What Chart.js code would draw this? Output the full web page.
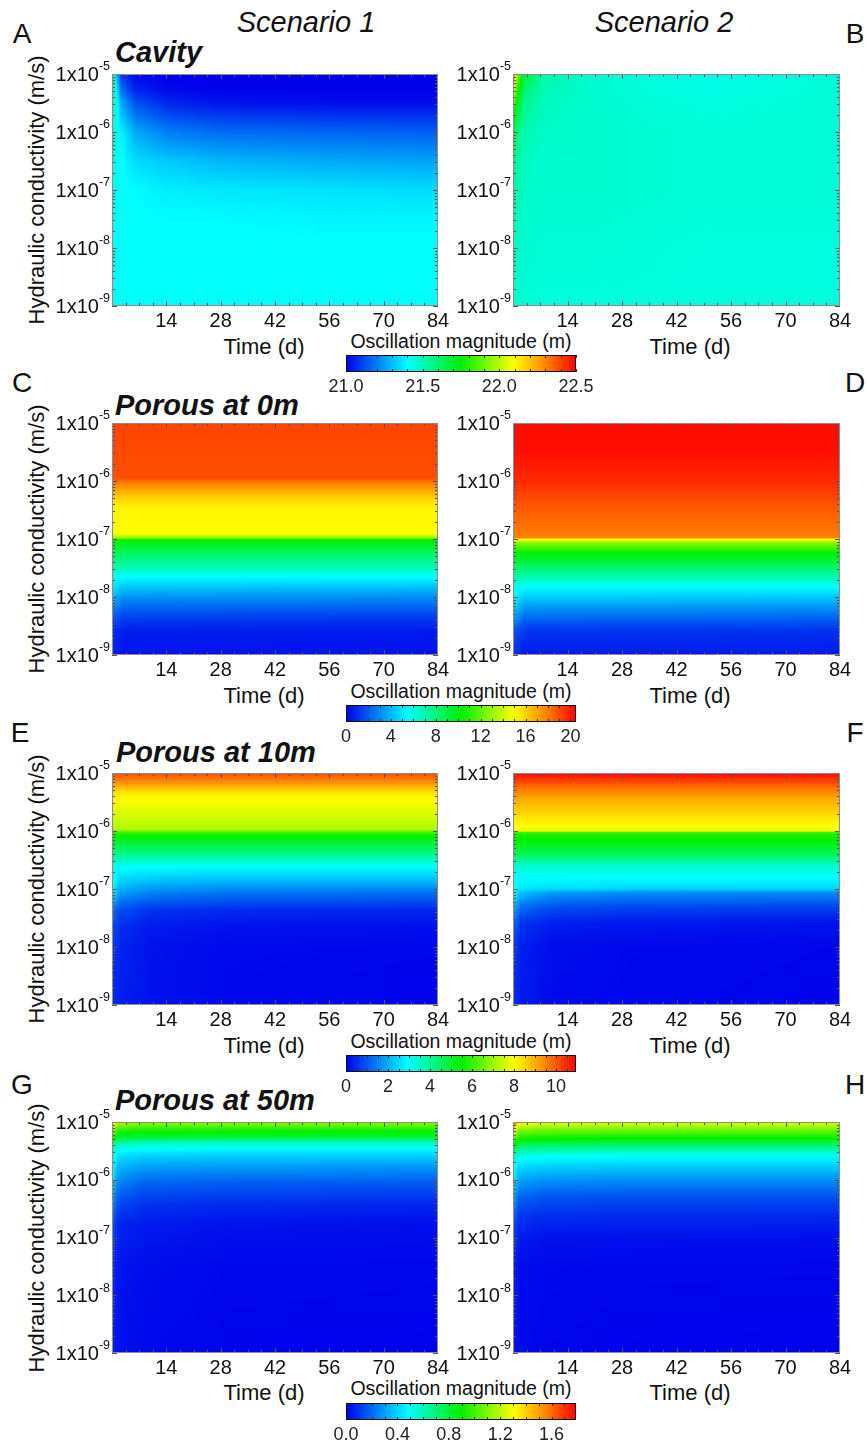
<!DOCTYPE html>
<html>
<head>
<meta charset="utf-8">
<title>Oscillation magnitude</title>
<script src="https://cdn.jsdelivr.net/npm/chart.js"></script>
<style>
  html, body { margin: 0; padding: 0; background: #fff; }
  #fig { position: relative; width: 867px; height: 1446px; overflow: hidden;
         font-family: "Liberation Sans", Arial, Helvetica, sans-serif; color: #111; }
  #fig canvas { position: absolute; }
  .t { position: absolute; white-space: nowrap; line-height: 1; transform: translate(-50%, -50%); }
  .scen { font-size: 29px; font-style: italic; }
  .letter { font-size: 28px; }
  .title { font-size: 29px; font-weight: bold; font-style: italic; transform: translate(0, -50%); }
  .ytitle { font-size: 22px; transform: translate(-50%, -50%) rotate(-90deg); }
  .xtitle { font-size: 22px; }
  .cbtitle { font-size: 19.5px; }
</style>
</head>
<body>
<div id="fig">
  <div class="t scen" style="left:306px; top:22px">Scenario 1</div>
  <div class="t scen" style="left:664px; top:22px">Scenario 2</div>

  <div class="t letter" style="left:22px; top:34px">A</div>
  <div class="t letter" style="left:855px; top:34px">B</div>
  <div class="t letter" style="left:22px; top:383px">C</div>
  <div class="t letter" style="left:855px; top:383px">D</div>
  <div class="t letter" style="left:20px; top:733px">E</div>
  <div class="t letter" style="left:855px; top:733px">F</div>
  <div class="t letter" style="left:22px; top:1085px">G</div>
  <div class="t letter" style="left:855px; top:1085px">H</div>

  <div class="t title" style="left:115px; top:52px">Cavity</div>
  <div class="t title" style="left:115px; top:405px">Porous at 0m</div>
  <div class="t title" style="left:116px; top:752px">Porous at 10m</div>
  <div class="t title" style="left:115px; top:1100px">Porous at 50m</div>

  <div class="t ytitle" style="left:37px; top:190px">Hydraulic conductivity (m/s)</div>
  <div class="t ytitle" style="left:37px; top:539px">Hydraulic conductivity (m/s)</div>
  <div class="t ytitle" style="left:37px; top:889px">Hydraulic conductivity (m/s)</div>
  <div class="t ytitle" style="left:37px; top:1238px">Hydraulic conductivity (m/s)</div>

  <div class="t xtitle" style="left:264px; top:347px">Time (d)</div>
  <div class="t xtitle" style="left:690px; top:347px">Time (d)</div>
  <div class="t xtitle" style="left:264px; top:696px">Time (d)</div>
  <div class="t xtitle" style="left:690px; top:696px">Time (d)</div>
  <div class="t xtitle" style="left:264px; top:1046px">Time (d)</div>
  <div class="t xtitle" style="left:690px; top:1046px">Time (d)</div>
  <div class="t xtitle" style="left:264px; top:1393px">Time (d)</div>
  <div class="t xtitle" style="left:690px; top:1393px">Time (d)</div>

  <div class="t cbtitle" style="left:461px; top:342px">Oscillation magnitude (m)</div>
  <div class="t cbtitle" style="left:461px; top:692px">Oscillation magnitude (m)</div>
  <div class="t cbtitle" style="left:461px; top:1042px">Oscillation magnitude (m)</div>
  <div class="t cbtitle" style="left:461px; top:1389px">Oscillation magnitude (m)</div>
</div>

<script>
// axes
const timeTicks = [14, 28, 42, 56, 70, 84];
const logKTicks = [-9, -8, -7, -6, -5];
const logKExp = ['-9', '-8', '-7', '-6', '-5'];

// A - cavity, scenario 1 (rows: log10 K, cols: time in days)
const kA = [-5, -5.25, -5.5, -6, -6.5, -7, -7.5, -8, -9];
const tA = [0, 1, 2.5, 6, 14, 28, 56, 84];
const zA = [
  [21.75, 21.30, 21.08, 21.01, 21.00, 21.00, 21.00, 21.00],
  [21.60, 21.40, 21.16, 21.05, 21.01, 21.00, 21.00, 21.00],
  [21.50, 21.44, 21.26, 21.13, 21.06, 21.03, 21.02, 21.02],
  [21.45, 21.44, 21.38, 21.27, 21.20, 21.17, 21.16, 21.15],
  [21.43, 21.43, 21.41, 21.35, 21.32, 21.29, 21.27, 21.26],
  [21.42, 21.42, 21.41, 21.40, 21.38, 21.37, 21.36, 21.35],
  [21.42, 21.42, 21.41, 21.41, 21.40, 21.40, 21.39, 21.39],
  [21.42, 21.42, 21.41, 21.41, 21.41, 21.41, 21.41, 21.41],
  [21.42, 21.42, 21.41, 21.41, 21.41, 21.41, 21.41, 21.41]
];

// B - cavity, scenario 2
const kB = [-5, -5.3, -5.6, -6, -6.5, -7, -8, -9];
const tB = [0, 1, 3, 8, 20, 50, 84];
const zB = [
  [22.50, 21.95, 21.68, 21.52, 21.47, 21.43, 21.46],
  [22.10, 21.80, 21.60, 21.50, 21.47, 21.44, 21.46],
  [21.85, 21.68, 21.55, 21.49, 21.47, 21.45, 21.46],
  [21.70, 21.58, 21.51, 21.48, 21.47, 21.46, 21.46],
  [21.60, 21.53, 21.49, 21.47, 21.47, 21.46, 21.46],
  [21.55, 21.51, 21.48, 21.47, 21.47, 21.46, 21.46],
  [21.50, 21.48, 21.47, 21.46, 21.46, 21.45, 21.45],
  [21.48, 21.47, 21.46, 21.45, 21.45, 21.45, 21.45]
];

// C - porous at 0 m, scenario 1
const kC = [-5, -5.5, -5.95, -6.05, -6.25, -6.45, -6.9, -6.97, -7.02, -7.25, -7.48, -7.65, -7.8, -8.05, -8.35, -8.6, -9];
const tC = [0, 3, 84];
const zC = [
  [19.1, 19.1, 19.1], [19.0, 19.0, 19.0], [18.9, 18.9, 18.9], [17.8, 17.8, 17.8],
  [16.3, 16.3, 16.3], [15.2, 15.2, 15.2], [15.0, 15.0, 15.0], [13.5, 13.5, 13.5],
  [10.3, 10.3, 10.3], [8.5, 8.4, 8.4], [7.2, 7.0, 7.0], [5.8, 5.5, 5.5],
  [5.2, 4.5, 4.4], [3.8, 2.9, 2.8], [2.0, 1.4, 1.3], [1.0, 0.6, 0.5], [0.8, 0.45, 0.4]
];

// D - porous at 0 m, scenario 2
const kD = [-5, -5.46, -5.98, -6.44, -6.98, -7.0, -7.07, -7.24, -7.53, -7.82, -7.99, -8.28, -8.57, -9];
const tD = [0, 3, 84];
const zD = [
  [20.3, 20.3, 20.3], [20.2, 20.2, 20.2], [19.7, 19.7, 19.7], [18.7, 18.7, 18.7],
  [17.9, 17.9, 17.9], [15.2, 15.2, 15.2], [12.7, 12.7, 12.7], [10.3, 10.3, 10.3],
  [8.0, 8.0, 8.0], [6.0, 5.6, 5.6], [5.4, 4.5, 4.4], [4.0, 2.7, 2.6],
  [2.0, 1.2, 1.1], [1.0, 0.55, 0.5]
];

// E - porous at 10 m, scenario 1
const kE = [-5, -5.17, -5.35, -5.58, -5.86, -5.97, -6.03, -6.09, -6.38, -6.61, -6.84, -7.07, -7.36, -7.65, -8, -8.5, -9];
const tE = [0, 2, 10, 30, 84];
const zE = [
  [10.1, 10.1, 10.1, 10.1, 10.1],
  [9.35, 9.35, 9.35, 9.35, 9.35],
  [8.25, 8.25, 8.25, 8.25, 8.25],
  [7.8, 7.8, 7.8, 7.8, 7.8],
  [7.4, 7.4, 7.4, 7.4, 7.4],
  [7.2, 7.2, 7.2, 7.2, 7.2],
  [6.0, 6.0, 6.0, 6.0, 6.0],
  [5.5, 5.5, 5.5, 5.5, 5.5],
  [4.3, 4.2, 4.2, 4.2, 4.2],
  [3.2, 3.05, 3.0, 3.0, 3.0],
  [3.1, 2.5, 2.3, 2.2, 2.2],
  [2.9, 1.8, 1.5, 1.35, 1.3],
  [1.4, 0.9, 0.6, 0.5, 0.45],
  [0.9, 0.55, 0.3, 0.2, 0.17],
  [0.7, 0.42, 0.22, 0.1, 0.06],
  [0.55, 0.38, 0.2, 0.08, 0.03],
  [0.5, 0.36, 0.2, 0.08, 0.03]
];

// F - porous at 10 m, scenario 2
const kF = [-5, -5.23, -5.46, -5.69, -5.92, -6.0, -6.03, -6.15, -6.38, -6.61, -6.78, -6.99, -7.07, -7.3, -7.59, -8, -9];
const tF = [0, 2, 10, 30, 84];
const zF = [
  [10.9, 10.9, 10.9, 10.9, 10.9],
  [9.8, 9.8, 9.8, 9.8, 9.8],
  [9.0, 9.0, 9.0, 9.0, 9.0],
  [8.5, 8.5, 8.5, 8.5, 8.5],
  [8.0, 8.0, 8.0, 8.0, 8.0],
  [7.9, 7.9, 7.9, 7.9, 7.9],
  [5.8, 5.8, 5.8, 5.8, 5.8],
  [5.5, 5.5, 5.5, 5.5, 5.5],
  [4.7, 4.7, 4.7, 4.7, 4.7],
  [3.4, 3.4, 3.4, 3.4, 3.4],
  [3.0, 3.0, 3.0, 3.0, 3.0],
  [3.1, 2.7, 2.6, 2.5, 2.5],
  [3.0, 2.2, 1.8, 1.65, 1.6],
  [2.2, 1.3, 0.95, 0.85, 0.8],
  [1.2, 0.6, 0.35, 0.27, 0.22],
  [0.7, 0.35, 0.15, 0.08, 0.05],
  [0.5, 0.3, 0.12, 0.06, 0.03]
];

// G - porous at 50 m, scenario 1
const kG = [-5, -5.03, -5.14, -5.26, -5.37, -5.46, -5.6, -5.83, -6.06, -6.41, -6.76, -7.5, -9];
const tG = [0, 1.5, 8, 30, 84];
const zG = [
  [1.50, 1.25, 1.18, 1.16, 1.16],
  [1.40, 1.15, 1.10, 1.09, 1.09],
  [1.20, 0.97, 0.94, 0.93, 0.93],
  [1.00, 0.83, 0.81, 0.80, 0.80],
  [0.75, 0.62, 0.58, 0.57, 0.57],
  [0.60, 0.52, 0.49, 0.48, 0.48],
  [0.55, 0.42, 0.39, 0.38, 0.38],
  [0.50, 0.33, 0.28, 0.27, 0.265],
  [0.45, 0.25, 0.19, 0.175, 0.17],
  [0.30, 0.14, 0.10, 0.085, 0.075],
  [0.18, 0.07, 0.05, 0.035, 0.027],
  [0.10, 0.04, 0.025, 0.012, 0.01],
  [0.06, 0.03, 0.015, 0.005, 0.003]
];

// H - porous at 50 m, scenario 2
const kH = [-5, -5.03, -5.13, -5.28, -5.42, -5.59, -5.73, -5.96, -6.3, -6.64, -7.0, -7.5, -9];
const tH = [0, 1.5, 8, 30, 84];
const zH = [
  [1.79, 1.40, 1.32, 1.30, 1.30],
  [1.60, 1.30, 1.24, 1.22, 1.22],
  [1.40, 1.12, 1.09, 1.08, 1.08],
  [1.10, 0.93, 0.91, 0.90, 0.90],
  [0.85, 0.73, 0.71, 0.70, 0.70],
  [0.60, 0.51, 0.49, 0.48, 0.48],
  [0.52, 0.44, 0.42, 0.41, 0.41],
  [0.48, 0.33, 0.30, 0.29, 0.29],
  [0.35, 0.19, 0.16, 0.15, 0.15],
  [0.20, 0.10, 0.085, 0.078, 0.075],
  [0.12, 0.05, 0.035, 0.03, 0.027],
  [0.07, 0.025, 0.015, 0.01, 0.009],
  [0.04, 0.015, 0.008, 0.004, 0.003]
];

// colour bars, one per row
const cbMin = [21.0, 0, 0, 0];
const cbMax = [22.5, 20.5, 10.95, 1.79];
const cbTicks = [[21.0, 21.5, 22.0, 22.5], [0, 4, 8, 12, 16, 20], [0, 2, 4, 6, 8, 10], [0, 0.4, 0.8, 1.2, 1.6]];
const cbLabels = [['21.0', '21.5', '22.0', '22.5'], ['0', '4', '8', '12', '16', '20'], ['0', '2', '4', '6', '8', '10'], ['0.0', '0.4', '0.8', '1.2', '1.6']];
const cbMinor = [0.1, 1, 0.5, 0.1];

// jet-like colour map
const cmapPos = [0, 0.27, 0.5, 0.73, 0.86, 1];
const cmapRgb = [[0, 0, 235], [0, 255, 255], [0, 240, 0], [255, 255, 0], [255, 140, 0], [255, 0, 0]];

// layout
const FONT = '"Liberation Sans", Arial, Helvetica, sans-serif';
const ROW_TOP = [74, 423, 773, 1122];
const COL_LEFT = [112, 513];
const PLOT_W = 326, PLOT_H = 232;
const CB_TOP = [355, 705, 1055, 1403];
const CB_LEFT = 346, CB_W = 230, CB_H = 17;

function colorAt(p) {
  p = Math.max(0, Math.min(1, p));
  for (let i = 0; i < cmapPos.length - 1; i++) {
    if (p <= cmapPos[i + 1]) {
      const f = (p - cmapPos[i]) / (cmapPos[i + 1] - cmapPos[i]);
      const a = cmapRgb[i], b = cmapRgb[i + 1];
      return [a[0] + (b[0] - a[0]) * f, a[1] + (b[1] - a[1]) * f, a[2] + (b[2] - a[2]) * f];
    }
  }
  return cmapRgb[cmapRgb.length - 1];
}

// index + fraction of v inside a monotonic array
function locate(arr, v) {
  const n = arr.length;
  const asc = arr[n - 1] > arr[0];
  for (let i = 0; i < n - 1; i++) {
    const a = arr[i], b = arr[i + 1];
    if ((asc && v <= b) || (!asc && v >= b)) {
      const f = (v - a) / (b - a);
      return [i, Math.min(1, Math.max(0, f))];
    }
  }
  return [n - 2, 1];
}

const heatPlugin = {
  id: 'heat',
  beforeDatasetsDraw(chart, args, opts) {
    const { ctx, chartArea: a, scales: { x, y } } = chart;
    const w = Math.round(a.right - a.left), h = Math.round(a.bottom - a.top);
    const img = ctx.createImageData(w, h);
    const cols = [];
    for (let i = 0; i < w; i++) cols.push(locate(opts.t, x.getValueForPixel(a.left + i + 0.5)));
    for (let j = 0; j < h; j++) {
      const [ri, rf] = locate(opts.k, y.getValueForPixel(a.top + j + 0.5));
      const r0 = opts.z[ri], r1 = opts.z[ri + 1];
      for (let i = 0; i < w; i++) {
        const [ci, cf] = cols[i];
        const top = r0[ci] + (r0[ci + 1] - r0[ci]) * cf;
        const bot = r1[ci] + (r1[ci + 1] - r1[ci]) * cf;
        const v = top + (bot - top) * rf;
        const c = colorAt((v - opts.min) / (opts.max - opts.min));
        const o = (j * w + i) * 4;
        img.data[o] = c[0]; img.data[o + 1] = c[1]; img.data[o + 2] = c[2]; img.data[o + 3] = 255;
      }
    }
    ctx.putImageData(img, Math.round(a.left), Math.round(a.top));
  }
};

const framePlugin = {
  id: 'frame',
  afterDraw(chart) {
    const { ctx, chartArea: a, scales: { x, y } } = chart;
    ctx.save();
    ctx.strokeStyle = '#555';
    ctx.lineWidth = 1;
    ctx.beginPath();
    for (let n = 1; n < 24; n++) {
      const px = Math.round(x.getPixelForValue(n * 3.5)) + 0.5;
      const len = n % 4 === 0 ? 5 : 3;
      ctx.moveTo(px, a.top); ctx.lineTo(px, a.top + len);
      ctx.moveTo(px, a.bottom); ctx.lineTo(px, a.bottom - len);
    }
    for (let e = -9; e < -5; e++) {
      for (let m = 1; m <= 9; m++) {
        const py = Math.round(y.getPixelForValue(e + Math.log10(m))) + 0.5;
        const len = m === 1 ? 5 : 3;
        ctx.moveTo(a.left, py); ctx.lineTo(a.left + len, py);
        ctx.moveTo(a.right, py); ctx.lineTo(a.right - len, py);
      }
    }
    ctx.stroke();
    ctx.strokeStyle = '#8c8c8c';
    ctx.strokeRect(Math.round(a.left) + 0.5, Math.round(a.top) + 0.5,
      Math.round(a.right - a.left) - 1, Math.round(a.bottom - a.top) - 1);

    ctx.fillStyle = '#111';
    ctx.textBaseline = 'middle';
    ctx.textAlign = 'center';
    ctx.font = '20px ' + FONT;
    timeTicks.forEach(v => ctx.fillText(String(v), x.getPixelForValue(v), a.bottom + 15));

    ctx.textAlign = 'right';
    logKTicks.forEach((v, i) => {
      const py = y.getPixelForValue(v);
      const right = a.left - 2;
      ctx.font = '12.5px ' + FONT;
      const ew = ctx.measureText(logKExp[i]).width;
      ctx.fillText(logKExp[i], right, py - 7);
      ctx.font = '20px ' + FONT;
      ctx.fillText('1x10', right - ew, py + 1);
    });
    ctx.restore();
  }
};

const colorbarPlugin = {
  id: 'colorbar',
  beforeDatasetsDraw(chart, args, opts) {
    const { ctx, chartArea: a, scales: { x } } = chart;
    const w = Math.round(a.right - a.left), h = Math.round(a.bottom - a.top);
    ctx.save();
    for (let i = 0; i < w; i++) {
      const v = x.getValueForPixel(a.left + i + 0.5);
      const c = colorAt((v - opts.min) / (opts.max - opts.min));
      ctx.fillStyle = 'rgb(' + c.map(Math.round).join(',') + ')';
      ctx.fillRect(Math.round(a.left) + i, Math.round(a.top), 1, h);
    }
    ctx.strokeStyle = '#333';
    ctx.beginPath();
    const nMinor = Math.floor((opts.max - opts.min) / opts.minor + 1e-6);
    for (let n = 1; n <= nMinor; n++) {
      const px = Math.round(x.getPixelForValue(opts.min + n * opts.minor)) + 0.5;
      ctx.moveTo(px, a.top); ctx.lineTo(px, a.top + 3);
      ctx.moveTo(px, a.bottom); ctx.lineTo(px, a.bottom - 3);
    }
    ctx.stroke();
    ctx.strokeStyle = '#111';
    ctx.strokeRect(Math.round(a.left) + 0.5, Math.round(a.top) + 0.5, w - 1, h - 1);

    ctx.fillStyle = '#222';
    ctx.font = '18px ' + FONT;
    ctx.textAlign = 'center';
    ctx.textBaseline = 'middle';
    opts.ticks.forEach((v, i) => ctx.fillText(opts.labels[i], x.getPixelForValue(v), a.bottom + 15));
    ctx.restore();
  }
};

const fig = document.getElementById('fig');

function addCanvas(left, top, width, height) {
  const c = document.createElement('canvas');
  c.width = width; c.height = height;
  c.style.left = left + 'px'; c.style.top = top + 'px';
  c.style.width = width + 'px'; c.style.height = height + 'px';
  fig.appendChild(c);
  return c;
}

function panel(row, col, k, t, z) {
  const pad = { left: 100, right: 14, top: 14, bottom: 30 };
  const w = col === 0 ? PLOT_W : PLOT_W + 1;
  const h = row === 3 ? PLOT_H - 1 : PLOT_H;
  const canvas = addCanvas(COL_LEFT[col] - pad.left, ROW_TOP[row] - pad.top,
    w + pad.left + pad.right, h + pad.top + pad.bottom);
  return new Chart(canvas, {
    type: 'scatter',
    data: { datasets: [{ data: [], pointRadius: 0 }] },
    options: {
      responsive: false,
      animation: false,
      devicePixelRatio: 1,
      events: [],
      layout: { padding: pad },
      plugins: {
        legend: { display: false },
        tooltip: { enabled: false },
        heat: { k: k, t: t, z: z, min: cbMin[row], max: cbMax[row] }
      },
      scales: {
        x: { type: 'linear', min: 0, max: 84, display: false },
        y: { type: 'linear', min: -9, max: -5, display: false }
      }
    },
    plugins: [heatPlugin, framePlugin]
  });
}

function colorbar(row) {
  const pad = { left: 24, right: 24, top: 4, bottom: 30 };
  const canvas = addCanvas(CB_LEFT - pad.left, CB_TOP[row] - pad.top,
    CB_W + pad.left + pad.right, CB_H + pad.top + pad.bottom);
  return new Chart(canvas, {
    type: 'scatter',
    data: { datasets: [{ data: [], pointRadius: 0 }] },
    options: {
      responsive: false,
      animation: false,
      devicePixelRatio: 1,
      events: [],
      layout: { padding: pad },
      plugins: {
        legend: { display: false },
        tooltip: { enabled: false },
        colorbar: { min: cbMin[row], max: cbMax[row], ticks: cbTicks[row], labels: cbLabels[row], minor: cbMinor[row] }
      },
      scales: {
        x: { type: 'linear', min: cbMin[row], max: cbMax[row], display: false },
        y: { type: 'linear', min: 0, max: 1, display: false }
      }
    },
    plugins: [colorbarPlugin]
  });
}

panel(0, 0, kA, tA, zA);
panel(0, 1, kB, tB, zB);
panel(1, 0, kC, tC, zC);
panel(1, 1, kD, tD, zD);
panel(2, 0, kE, tE, zE);
panel(2, 1, kF, tF, zF);
panel(3, 0, kG, tG, zG);
panel(3, 1, kH, tH, zH);
for (let r = 0; r < 4; r++) colorbar(r);
</script>
</body>
</html>
